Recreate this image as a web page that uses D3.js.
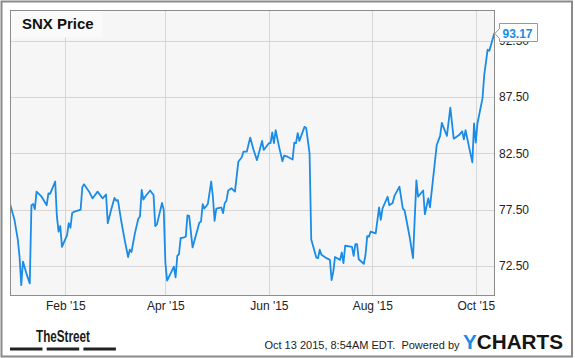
<!DOCTYPE html>
<html>
<head>
<meta charset="utf-8">
<script src="https://cdn.jsdelivr.net/npm/d3@7"></script>
<style>
  body { margin: 0; background: #fff; }
  svg { display: block; font-family: "Liberation Sans", Arial, sans-serif; }
  .axis text { fill: #222; font-size: 12px; }
  .axis path, .axis line { display: none; }
</style>
</head>
<body>
<div id="chart"></div>
<script>
// SNX daily close
const dates = [
  '2014-12-30','2015-01-02','2015-01-04','2015-01-05','2015-01-06','2015-01-07','2015-01-09','2015-01-11',
  '2015-01-12','2015-01-13','2015-01-14','2015-01-15','2015-01-18','2015-01-21','2015-01-22','2015-01-23',
  '2015-01-26','2015-01-27','2015-01-28','2015-01-29','2015-01-30','2015-02-02','2015-02-03','2015-02-04',
  '2015-02-05','2015-02-06','2015-02-10','2015-02-11','2015-02-12','2015-02-15','2015-02-17','2015-02-20',
  '2015-02-23','2015-02-25','2015-02-26','2015-02-28','2015-03-02','2015-03-03','2015-03-04','2015-03-06',
  '2015-03-08','2015-03-10','2015-03-11','2015-03-12','2015-03-14','2015-03-16','2015-03-17','2015-03-18',
  '2015-03-19','2015-03-20','2015-03-23','2015-03-25','2015-03-26','2015-03-27','2015-03-30','2015-03-31',
  '2015-04-01','2015-04-02','2015-04-06','2015-04-07','2015-04-08','2015-04-09','2015-04-10','2015-04-11',
  '2015-04-13','2015-04-14','2015-04-15','2015-04-17','2015-04-21','2015-04-22','2015-04-23','2015-04-24',
  '2015-04-26','2015-04-28','2015-04-29','2015-04-30','2015-05-01','2015-05-04','2015-05-05','2015-05-06',
  '2015-05-07','2015-05-08','2015-05-10','2015-05-12','2015-05-14','2015-05-16','2015-05-17','2015-05-19',
  '2015-05-21','2015-05-23','2015-05-25','2015-05-28','2015-05-29','2015-06-01','2015-06-02','2015-06-03',
  '2015-06-04','2015-06-05','2015-06-07','2015-06-09','2015-06-10','2015-06-12','2015-06-15','2015-06-16',
  '2015-06-17','2015-06-18','2015-06-19','2015-06-22','2015-06-23','2015-06-25','2015-06-26','2015-06-29',
  '2015-06-30','2015-07-01','2015-07-02','2015-07-05','2015-07-07','2015-07-08','2015-07-09','2015-07-10',
  '2015-07-13','2015-07-14','2015-07-15','2015-07-16','2015-07-20','2015-07-21','2015-07-22','2015-07-23',
  '2015-07-24','2015-07-27','2015-07-28','2015-07-29','2015-07-30','2015-07-31','2015-08-03','2015-08-05',
  '2015-08-06','2015-08-07','2015-08-10','2015-08-11','2015-08-13','2015-08-14','2015-08-17','2015-08-19',
  '2015-08-20','2015-08-21','2015-08-23','2015-08-25','2015-08-27','2015-08-28','2015-08-31','2015-09-01',
  '2015-09-03','2015-09-04','2015-09-08','2015-09-10','2015-09-11','2015-09-14','2015-09-16','2015-09-18',
  '2015-09-21','2015-09-23','2015-09-24','2015-09-25','2015-09-27','2015-09-29','2015-09-30','2015-10-01',
  '2015-10-02','2015-10-05','2015-10-06','2015-10-08','2015-10-09','2015-10-12'
];

const prices = [
  78.2, 76.6, 74.8, 73.3, 70.8, 72.9, 71.85, 70.96,
  77.9, 78.0, 77.55, 79.1, 78.65, 77.9, 78.95, 78.9,
  80.0, 76.9, 75.55, 76.05, 74.2, 75.25, 76.3, 75.9,
  77.2, 77.3, 77.5, 79.5, 79.75, 79.1, 78.5, 79.1,
  78.5, 78.85, 76.3, 77.5, 78.55, 78.3, 78.35, 76.45,
  74.8, 73.3, 73.95, 73.75, 75.4, 76.7, 76.9, 79.25,
  78.4, 78.65, 79.2, 78.8, 76.05, 76.2, 78.1, 77.5,
  72.75, 71.2, 72.45, 71.5, 73.4, 73.55, 75.0, 75.0,
  75.1, 77.0, 76.95, 74.15, 76.35, 76.45, 78.0, 77.6,
  78.0, 80.0, 78.65, 76.5, 77.6, 77.7, 77.2, 78.1,
  78.3, 79.2, 79.4, 79.1, 81.75, 82.15, 82.65, 82.65,
  83.9, 82.8, 81.9, 83.6, 82.8, 83.4, 83.4, 84.35,
  83.4, 84.55, 83.1, 81.8, 82.3, 82.2, 81.95, 83.45,
  83.4, 84.3, 83.6, 84.85, 84.75, 82.5, 74.85, 73.25,
  73.2, 73.95, 73.5, 73.2, 73.05, 71.25, 72.0, 73.3,
  73.05, 73.7, 72.75, 74.3, 74.2, 73.4, 74.45, 74.45,
  73.1, 72.7, 73.5, 75.15, 75.1, 75.55, 75.4, 77.7,
  76.6, 77.6, 78.65, 77.9, 78.1, 78.7, 79.55, 77.6,
  77.45, 76.7, 75.1, 73.2, 80.1, 78.65, 79.2, 77.1,
  78.5, 77.7, 83.25, 84.05, 85.2, 84.05, 86.55, 83.8,
  84.1, 84.45, 83.75, 84.55, 83.1, 81.7, 85.15, 83.45,
  85.15, 87.4, 89.45, 91.7, 91.6, 93.17
];

const yTicks = [72.5, 77.5, 82.5, 87.5, 92.5];
const xTicks = ['2015-02-01', '2015-04-01', '2015-06-01', '2015-08-01', '2015-10-01'];
const title = 'SNX Price';
const stamp = 'Oct 13 2015, 8:54AM EDT.  Powered by';

const width = 575, height = 358;
const plot = {left: 10, top: 10, right: 494, bottom: 295};
const blue = '#1a8ce8';

const parse = d3.timeParse('%Y-%m-%d');
const data = dates.map((d, i) => ({date: parse(d), value: prices[i]}));

const svg = d3.select('#chart').append('svg')
  .attr('width', width)
  .attr('height', height);

// outer frame
svg.append('rect')
  .attr('x', 1.5).attr('y', 1.5)
  .attr('width', 570.5).attr('height', 355)
  .attr('fill', '#fff')
  .attr('stroke', '#8a8a8a')
  .attr('stroke-width', 2);

// scales
let x = d3.scaleTime()
  .domain([parse('2014-12-30'), parse('2015-10-12')])
  .range([9.4, 494.4]);

let y = d3.scaleLinear()
  .domain([69.93, 95.22])
  .range([plot.bottom, plot.top]);

svg.append('rect')
  .attr('x', plot.left).attr('y', plot.top)
  .attr('width', plot.right - plot.left)
  .attr('height', plot.bottom - plot.top)
  .attr('fill', '#f6f6f6');

// grid
const crisp = v => Math.round(v) + 0.5;

svg.append('g')
  .selectAll('line')
  .data(yTicks)
  .enter().append('line')
  .attr('x1', plot.left).attr('x2', plot.right)
  .attr('y1', d => crisp(y(d)))
  .attr('y2', d => crisp(y(d)))
  .attr('stroke', '#d6d6d6');

svg.append('g')
  .selectAll('line')
  .data(xTicks.map(parse))
  .enter().append('line')
  .attr('x1', d => crisp(x(d)))
  .attr('x2', d => crisp(x(d)))
  .attr('y1', plot.top).attr('y2', plot.bottom)
  .attr('stroke', '#d6d6d6');

// title box
svg.append('rect')
  .attr('x', plot.left + 0.5).attr('y', plot.top + 0.5)
  .attr('width', 92).attr('height', 27)
  .attr('fill', '#fafafa');

svg.append('text')
  .attr('x', 22)
  .attr('y', 29)
  .attr('font-size', 15)
  .attr('font-weight', 'bold')
  .attr('fill', '#111')
  .text(title);

// price line
svg.append('clipPath')
  .attr('id', 'clip')
  .append('rect')
  .attr('x', plot.left).attr('y', plot.top)
  .attr('width', plot.right - plot.left + 1)
  .attr('height', plot.bottom - plot.top);

const line = d3.line()
  .x(d => x(d.date))
  .y(d => y(d.value));

svg.append('path')
  .datum(data)
  .attr('clip-path', 'url(#clip)')
  .attr('d', line)
  .attr('fill', 'none')
  .attr('stroke', blue)
  .attr('stroke-width', 1.8)
  .attr('stroke-linejoin', 'round');

// plot frame
svg.append('rect')
  .attr('x', plot.left + 0.5).attr('y', plot.top + 0.5)
  .attr('width', plot.right - plot.left)
  .attr('height', plot.bottom - plot.top)
  .attr('fill', 'none')
  .attr('stroke', '#8c8c8c');

// axes
let xAxis = d3.axisBottom(x)
  .tickValues(xTicks.map(parse))
  .tickFormat(d3.timeFormat("%b '%y"))
  .tickSize(0)
  .tickPadding(6);

svg.append('g')
  .attr('class', 'axis axis--x')
  .attr('transform', `translate(0, ${plot.bottom})`)
  .call(xAxis)
  .selectAll('text')
  .attr('font-family', '"Liberation Sans", Arial, sans-serif');

let yAxis = d3.axisRight(y)
  .tickValues(yTicks)
  .tickFormat(d3.format('.2f'))
  .tickSize(0)
  .tickPadding(5);

svg.append('g')
  .attr('class', 'axis axis--y')
  .attr('transform', `translate(${plot.right}, 0)`)
  .call(yAxis)
  .selectAll('text')
  .attr('font-family', '"Liberation Sans", Arial, sans-serif');

// last value flag
const last = data[data.length - 1];
const lx = x(last.date), ly = Math.round(y(last.value));
const bx = plot.right + 5.5, bw = 38, bh = 18;
const flag = d3.path();
flag.moveTo(lx + 0.5, ly + 0.5);
flag.lineTo(bx, ly - 4.5);
flag.lineTo(bx, ly - bh / 2 - 0.5);
flag.lineTo(bx + bw, ly - bh / 2 - 0.5);
flag.lineTo(bx + bw, ly + bh / 2 - 0.5);
flag.lineTo(bx, ly + bh / 2 - 0.5);
flag.lineTo(bx, ly + 5.5);
flag.closePath();

svg.append('path')
  .attr('d', flag.toString())
  .attr('fill', '#fff')
  .attr('stroke', '#999');

svg.append('text')
  .attr('x', bx + 3)
  .attr('y', ly + 4.5)
  .attr('font-size', 12)
  .attr('font-weight', 'bold')
  .attr('fill', blue)
  .text(d3.format('.2f')(last.value));

// footer
svg.append('text')
  .attr('x', 36)
  .attr('y', 342)
  .attr('font-family', '"Liberation Sans Narrow", "Liberation Sans", Arial, sans-serif')
  .attr('font-size', 16)
  .attr('font-weight', 'bold')
  .attr('textLength', 54)
  .attr('lengthAdjust', 'spacingAndGlyphs')
  .attr('fill', '#1a1a1a')
  .text('TheStreet');

svg.append('g')
  .selectAll('rect')
  .data([0, 1, 2])
  .enter().append('rect')
  .attr('x', d => 10 + d * 36.7)
  .attr('y', 347.5)
  .attr('width', 32.5)
  .attr('height', 3)
  .attr('fill', '#222');

svg.append('text')
  .attr('x', 459.5)
  .attr('y', 349)
  .attr('text-anchor', 'end')
  .attr('font-size', 11)
  .attr('fill', '#222')
  .style('white-space', 'pre')
  .text(stamp);

const logo = svg.append('text')
  .attr('x', 463)
  .attr('y', 349)
  .attr('font-size', 19.5)
  .attr('font-weight', 'bold')
  .attr('textLength', 100)
  .attr('lengthAdjust', 'spacingAndGlyphs');

logo.append('tspan').attr('fill', blue).text('Y');
logo.append('tspan').attr('fill', '#151515').text('CHARTS');
</script>
</body>
</html>
